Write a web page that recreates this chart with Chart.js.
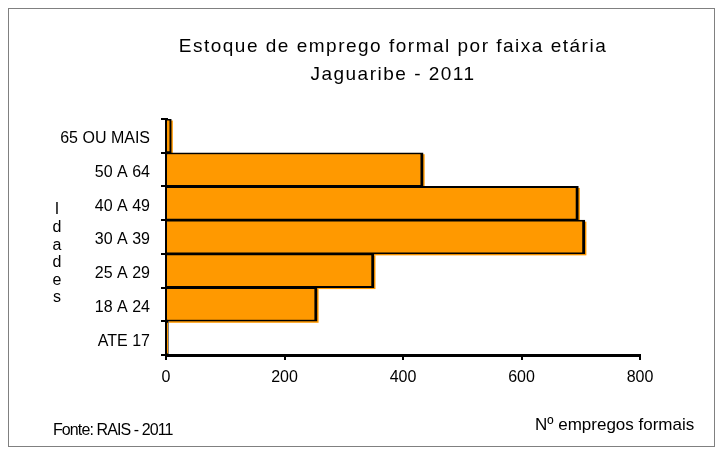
<!DOCTYPE html>
<html><head><meta charset="utf-8">
<script src="https://cdn.jsdelivr.net/npm/chart.js@4"></script>
<style>html,body{margin:0;padding:0;background:#fff}#wrap{width:723px;height:456px}</style>
</head><body><div id="wrap"><canvas id="c" width="723" height="456"></canvas></div>
<script>
// ---- data ----
const categories = ['65 OU MAIS', '50 A 64', '40 A 49', '30 A 39', '25 A 29', '18 A 24', 'ATE 17'];
const values = [9, 434, 696, 707, 351, 255, 4];
const xTicks = [0, 200, 400, 600, 800];
const titleLines = ['Estoque de emprego formal por faixa etária', 'Jaguaribe - 2011'];
const yAxisTitle = 'Idades';
const xAxisTitle = 'Nº empregos formais';
const sourceNote = 'Fonte: RAIS - 2011';

const FONT = '"Liberation Sans", Arial, sans-serif';
const ORANGE = '#FF9900';

const decor = {
  id: 'decor',
  beforeDatasetsDraw(chart) {
    const ctx = chart.ctx;
    const meta = chart.getDatasetMeta(0);
    ctx.save();
    ctx.fillStyle = ORANGE;
    meta.data.forEach(el => {
      const p = el.getProps(['x', 'y', 'base', 'height'], true);
      const w = p.x - p.base;
      if (w > 4) ctx.fillRect(p.base + 1.5, p.y - p.height / 2 + 1.5, w, p.height);
    });
    ctx.restore();
  },
  afterDraw(chart) {
    const ctx = chart.ctx;
    ctx.save();
    // outer frame
    ctx.strokeStyle = '#808080';
    ctx.lineWidth = 1;
    ctx.strokeRect(8.5, 8.5, 706, 438);
    ctx.fillStyle = '#000';
    // title
    ctx.font = '19px ' + FONT;
    ctx.letterSpacing = '1.5px';
    ctx.textAlign = 'left';
    ctx.textBaseline = 'alphabetic';
    const cx = 393;
    const baselines = [52, 80];
    titleLines.forEach((t, i) => {
      const w = ctx.measureText(t).width;
      ctx.fillText(t, cx - w / 2, baselines[i]);
    });
    ctx.letterSpacing = '0px';
    // vertical y-axis title (stacked letters)
    ctx.font = '16px ' + FONT;
    ctx.textAlign = 'center';
    ctx.textBaseline = 'middle';
    [...yAxisTitle].forEach((ch, i) => ctx.fillText(ch, 57, 210 + i * 17.6));
    // x-axis title
    ctx.textAlign = 'left';
    ctx.font = '17px ' + FONT;
    ctx.fillText(xAxisTitle, 535, 425);
    // source
    ctx.font = '16px ' + FONT;
    ctx.letterSpacing = '-0.9px';
    ctx.fillText(sourceNote, 53, 431);
    ctx.restore();
  }
};

new Chart(document.getElementById('c'), {
  type: 'bar',
  data: {
    labels: categories,
    datasets: [{
      data: values,
      backgroundColor: ORANGE,
      borderColor: '#000',
      borderWidth: { top: 1.8, right: 3, bottom: 1.8, left: 0 },
      borderSkipped: 'start',
      barPercentage: 1,
      categoryPercentage: 1
    }]
  },
  options: {
    indexAxis: 'y',
    responsive: false,
    animation: false,
    devicePixelRatio: 1,
    layout: { padding: { left: 0, right: 83, top: 119, bottom: 0 } },
    plugins: { legend: { display: false }, title: { display: false }, tooltip: { enabled: false } },
    scales: {
      x: {
        min: xTicks[0],
        max: xTicks[xTicks.length - 1],
        ticks: { stepSize: xTicks[1] - xTicks[0], color: '#000', font: { family: FONT, size: 16 }, padding: 8, maxRotation: 0 },
        grid: { display: true, drawOnChartArea: false, drawTicks: true, tickLength: 5, color: '#000', lineWidth: 2 },
        border: { display: true, color: '#000', width: 3 },
        afterFit(scale) { scale.height = 101; }
      },
      y: {
        ticks: { color: '#000', font: { family: FONT, size: 16 }, padding: 11, labelOffset: 3 },
        grid: { display: true, offset: true, drawOnChartArea: false, drawTicks: true, tickLength: 5, color: '#000', lineWidth: 2 },
        border: { display: true, color: '#000', width: 3 },
        afterFit(scale) { scale.width = 166; }
      }
    }
  },
  plugins: [decor]
});
</script>
</body></html>
